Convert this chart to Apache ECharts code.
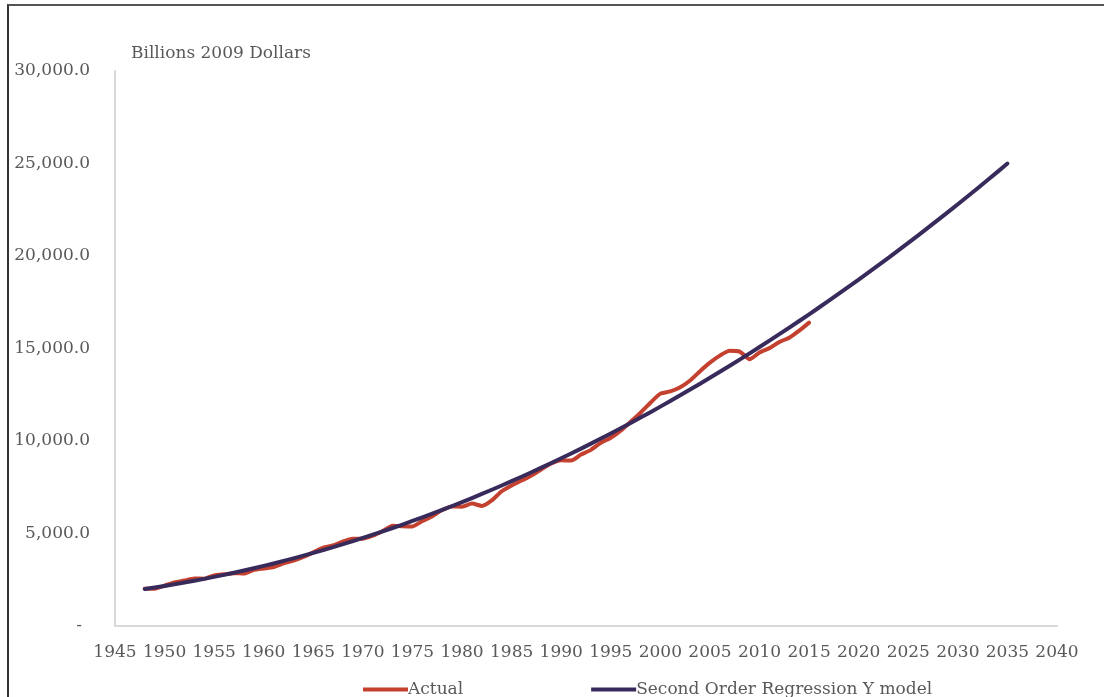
<!DOCTYPE html>
<html>
<head>
<meta charset="utf-8">
<script src="https://cdn.jsdelivr.net/npm/echarts@6/dist/echarts.min.js"></script>
<style>
  html, body { margin: 0; padding: 0; background: #fff; }
  #chart { position: absolute; left: 0; top: 0; width: 1104px; height: 697px; }
  .frame {
    position: absolute; left: 7px; top: 4px; width: 1097px; height: 693px;
    border-left: 2px solid #333; border-top: 2px solid #555;
    pointer-events: none;
  }
</style>
</head>
<body>
<div id="chart"></div>
<div class="frame"></div>
<script>
// actual real GDP, billions of 2009 dollars, 1948-2015
const actualStart = 1948
const actualValues = [
  2020, 2009, 2184, 2360, 2456, 2571, 2557, 2739, 2797, 2856,
  2835, 3031, 3109, 3188, 3383, 3530, 3734, 3977, 4239, 4355,
  4569, 4713, 4722, 4878, 5134, 5424, 5396, 5385, 5675, 5937,
  6267, 6466, 6450, 6618, 6491, 6792, 7285, 7594, 7861, 8133,
  8475, 8786, 8955, 8948, 9267, 9521, 9905, 10175, 10561, 11035,
  11526, 12066, 12560, 12682, 12909, 13271, 13774, 14234, 14614, 14874,
  14830, 14419, 14784, 15021, 15355, 15583, 15962, 16397
]

// second order regression model, 1948-2035
const modelStart = 1948
const modelValues = [
  2000, 2081, 2166, 2255, 2348, 2446, 2548, 2654, 2765, 2880,
  2999, 3122, 3250, 3381, 3518, 3658, 3803, 3952, 4105, 4263,
  4424, 4591, 4761, 4935, 5114, 5298, 5485, 5677, 5873, 6073,
  6277, 6486, 6699, 6917, 7138, 7364, 7594, 7829, 8067, 8310,
  8558, 8809, 9065, 9325, 9589, 9858, 10131, 10408, 10689, 10975,
  11265, 11559, 11858, 12161, 12468, 12779, 13095, 13414, 13739, 14067,
  14400, 14737, 15078, 15423, 15773, 16127, 16485, 16848, 17215, 17586,
  17961, 18341, 18725, 19113, 19506, 19903, 20304, 20709, 21118, 21532,
  21950, 22373, 22800, 23231, 23666, 24105, 24549, 24997
]

const seriesNames = ['Actual', 'Second Order Regression Y model']
const yTicks = [0, 5000, 10000, 15000, 20000, 25000, 30000]

const toPairs = (start, values) => values.map((v, i) => [start + i, v])

const font = 'DejaVu Serif'
const labelColor = '#595959'

const chart = echarts.init(document.getElementById('chart'))

chart.setOption({
  animation: false,
  backgroundColor: '#fff',
  title: {
    text: 'Billions 2009 Dollars',
    left: 126,
    top: 40,
    textStyle: { fontFamily: font, fontSize: 17, fontWeight: 'normal', color: labelColor }
  },
  legend: {
    data: seriesNames,
    left: 358,
    top: 676,
    itemGap: 128,
    itemWidth: 45,
    itemHeight: 4,
    icon: 'rect',
    textStyle: { fontFamily: font, fontSize: 17, color: labelColor, padding: [0, 0, 0, -5] }
  },
  grid: { left: 115, right: 47, top: 71, bottom: 71, containLabel: false },
  xAxis: {
    type: 'value',
    min: 1945,
    max: 2040,
    interval: 5,
    axisLine: { show: true, lineStyle: { color: '#d9d9d9', width: 2 } },
    axisTick: { show: false },
    splitLine: { show: false },
    axisLabel: {
      margin: 18,
      fontFamily: font,
      fontSize: 17,
      color: labelColor,
      formatter: v => String(v)
    }
  },
  yAxis: {
    type: 'value',
    min: yTicks[0],
    max: yTicks[yTicks.length - 1],
    interval: 5000,
    axisLine: { show: true, lineStyle: { color: '#d9d9d9', width: 2 } },
    axisTick: { show: false },
    splitLine: { show: false },
    axisLabel: {
      margin: 25,
      fontFamily: font,
      fontSize: 17,
      color: labelColor,
      formatter: v => v === 0 ? '{z|-}' : v.toLocaleString('en-US', { minimumFractionDigits: 1 }),
      rich: {
        z: { fontFamily: font, fontSize: 17, color: labelColor, padding: [0, 8, 0, 0] }
      }
    }
  },
  series: [
    {
      name: seriesNames[0],
      type: 'line',
      data: toPairs(actualStart, actualValues),
      showSymbol: false,
      smooth: 0.2,
      lineStyle: { color: '#c4412f', width: 4, cap: 'round', join: 'round' },
      itemStyle: { color: '#c4412f' }
    },
    {
      name: seriesNames[1],
      type: 'line',
      data: toPairs(modelStart, modelValues),
      showSymbol: false,
      lineStyle: { color: '#382b5c', width: 4, cap: 'round', join: 'round' },
      itemStyle: { color: '#382b5c' }
    }
  ]
})

window.addEventListener('resize', chart.resize)
</script>
</body>
</html>
